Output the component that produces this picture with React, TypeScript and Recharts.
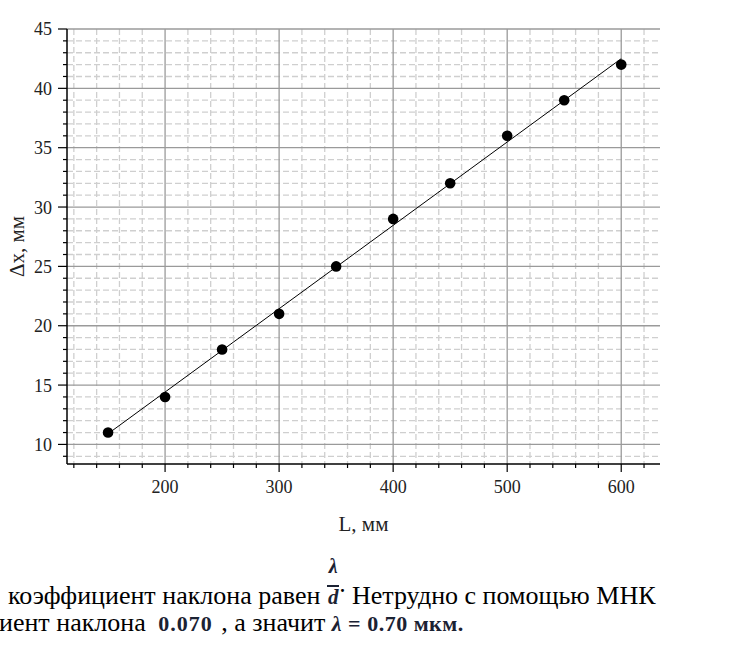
import React from 'react';
import { ScatterChart, Scatter, XAxis, YAxis, CartesianGrid, Label } from 'recharts';

// Measured data: screen distance L (mm) vs fringe shift Δx (mm)
const lengthL = [150, 200, 250, 300, 350, 400, 450, 500, 550, 600];
const deltaX = [11, 14, 18, 21, 25, 29, 32, 36, 39, 42];

// Fitted straight line end points
const fitL = [150, 600];
const fitDX = [10.9, 42.5];

const xMajorTicks = [200, 300, 400, 500, 600];
const xMinorTicks = [120, 140, 160, 180, 220, 240, 260, 280, 320, 340, 360, 380, 420, 440, 460, 480, 520, 540, 560, 580, 620];
const yMajorTicks = [10, 15, 20, 25, 30, 35, 40, 45];
const yMinorTicks = [9, 11, 12, 13, 14, 16, 17, 18, 19, 21, 22, 23, 24, 26, 27, 28, 29, 31, 32, 33, 34, 36, 37, 38, 39, 41, 42, 43, 44];

const xDomain: [number, number] = [114, 634];
const yDomain: [number, number] = [8.35, 45];

const points = lengthL.map((x, i) => ({ x, y: deltaX[i] }));
const fitLine = fitL.map((x, i) => ({ x, y: fitDX[i] }));
const xAllTicks = [...xMinorTicks, ...xMajorTicks].sort((a, b) => a - b);
const yAllTicks = [...yMinorTicks, ...yMajorTicks].sort((a, b) => a - b);

const FONT = "'Liberation Serif', 'DejaVu Serif', serif";
const TEXT_COLOR = '#222';

const YTick = (props: any) => {
  const { x, y, payload } = props;
  const major = yMajorTicks.includes(payload.value);
  return (
    <g>
      <line x1={x - (major ? 9 : 4)} x2={x} y1={y} y2={y} stroke="#000" strokeWidth={1.2} />
      {major && (
        <text x={x - 15} y={y} dy="0.36em" textAnchor="end" style={{ fontFamily: FONT }} fontSize={18} fill={TEXT_COLOR}>
          {payload.value}
        </text>
      )}
    </g>
  );
};

const XTick = (props: any) => {
  const { x, y, payload } = props;
  const major = xMajorTicks.includes(payload.value);
  return (
    <g>
      <line x1={x} x2={x} y1={y} y2={y + (major ? 8 : 4)} stroke="#000" strokeWidth={1.2} />
      {major && (
        <text x={x} y={y + 29} textAnchor="middle" style={{ fontFamily: FONT }} fontSize={18} fill={TEXT_COLOR}>
          {payload.value}
        </text>
      )}
    </g>
  );
};

const Dot = (props: any) => <circle cx={props.cx} cy={props.cy} r={5.3} fill="#000" />;
const NoDot = () => <g />;

const mathStyle: React.CSSProperties = {
  fontFamily: FONT,
  fontWeight: 'bold',
  color: '#1b2233',
};

export default function App() {
  return (
    <div style={{ position: 'absolute', left: 0, top: 0, width: 731, height: 646, background: '#fff', overflow: 'hidden', fontFamily: FONT }}>
      <ScatterChart width={731} height={545} margin={{ top: 29, right: 71, bottom: 11, left: 0 }}>
        <CartesianGrid
          horizontalValues={yMinorTicks}
          verticalValues={xMinorTicks}
          stroke="#cfcfcf"
          strokeDasharray="6 3"
          strokeWidth={1.3}
        />
        <CartesianGrid
          horizontalValues={yMajorTicks}
          verticalValues={xMajorTicks}
          stroke="#9a9a9a"
          strokeWidth={1.3}
        />
        <XAxis
          type="number"
          dataKey="x"
          domain={xDomain}
          ticks={xAllTicks}
          interval={0}
          allowDataOverflow
          height={70}
          tickSize={0}
          tickMargin={0}
          tickLine={false}
          tick={<XTick />}
          axisLine={{ stroke: '#000', strokeWidth: 1.5 }}
        >
          <Label value="L, мм" position="insideBottom" offset={3} style={{ fontFamily: FONT, fontSize: 21, fill: TEXT_COLOR }} />
        </XAxis>
        <YAxis
          type="number"
          dataKey="y"
          domain={yDomain}
          ticks={yAllTicks}
          interval={0}
          allowDataOverflow
          width={67}
          tickSize={0}
          tickMargin={0}
          tickLine={false}
          tick={<YTick />}
          axisLine={{ stroke: '#000', strokeWidth: 1.5 }}
        >
          <Label
            value="Δx, мм"
            angle={-90}
            position="insideLeft"
            offset={17}
            style={{ fontFamily: FONT, fontSize: 21, fill: TEXT_COLOR, textAnchor: 'middle' }}
          />
        </YAxis>
        <Scatter data={fitLine} line={{ stroke: '#000', strokeWidth: 1 }} shape={<NoDot />} isAnimationActive={false} />
        <Scatter data={points} shape={<Dot />} isAnimationActive={false} />
      </ScatterChart>

      <div
        style={{
          position: 'absolute',
          left: 8,
          top: 582,
          fontFamily: FONT,
          fontSize: 26,
          lineHeight: 1,
          whiteSpace: 'nowrap',
          color: '#000',
        }}
      >
        коэффициент наклона равен{' '}
        <span style={{ position: 'relative', display: 'inline-block' }}>
          <span
            style={{
              ...mathStyle,
              fontStyle: 'italic',
              position: 'absolute',
              left: 0,
              right: 0,
              textAlign: 'center',
              top: -27,
              fontSize: 20,
            }}
          >
            λ
          </span>
          <span style={{ ...mathStyle, fontStyle: 'italic', fontSize: 21, borderTop: '2px solid #1b2233', display: 'inline-block', lineHeight: 1, padding: '0 1px' }}>
            d
          </span>
        </span>
        <span style={{ fontWeight: 'bold', fontSize: 18, verticalAlign: 7 }}>·</span> Нетрудно с помощью МНК
      </div>
      <div
        style={{
          position: 'absolute',
          left: -1,
          top: 610,
          fontFamily: FONT,
          fontSize: 26,
          lineHeight: 1,
          whiteSpace: 'nowrap',
          color: '#000',
        }}
      >
        иент наклона{' '}
        <span style={{ ...mathStyle, fontSize: 22, letterSpacing: 1, marginLeft: 6, marginRight: 2 }}>0.070</span> , а значит{' '}
        <span style={{ ...mathStyle, fontSize: 22, letterSpacing: 0.5 }}>
          <span style={{ fontStyle: 'italic' }}>λ</span> = 0.70 мкм.
        </span>
      </div>
    </div>
  );
}
